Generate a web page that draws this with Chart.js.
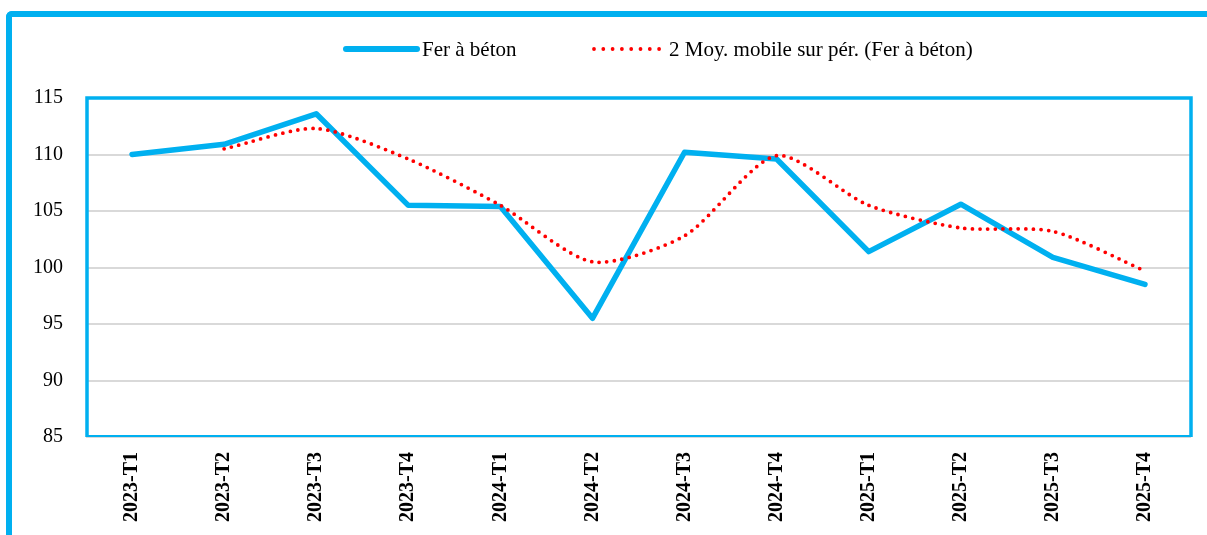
<!doctype html>
<html>
	<head>
		<title>Fer à béton</title>
		<meta charset="utf-8">
		<script src="https://cdnjs.cloudflare.com/ajax/libs/Chart.js/4.4.1/chart.umd.min.js"></script>
		<style>
			html, body { margin: 0; padding: 0; background: #fff; overflow: hidden; }
			#frame {
				position: absolute; left: 6px; top: 11px;
				width: 1400px; height: 700px;
				border-top: 6px solid #00B0F0; border-left: 6px solid #00B0F0;
				border-top-left-radius: 6px;
			}
			#wrap { position: absolute; left: 0; top: 0; width: 1207px; height: 535px; }
		</style>
	</head>
	<body>
		<div id="frame"></div>
		<div id="wrap">
			<canvas id="canvas" width="1207" height="535"></canvas>
		</div>

<script>
var labels  = ["2023-T1","2023-T2","2023-T3","2023-T4","2024-T1","2024-T2","2024-T3","2024-T4","2025-T1","2025-T2","2025-T3","2025-T4"];
var ferBeton = [110.0, 110.9, 113.6, 105.5, 105.4, 95.5, 110.2, 109.6, 101.4, 105.6, 100.9, 98.5];
var moyMobile = [null, 110.5, 112.3, 109.6, 105.5, 100.5, 102.8, 109.9, 105.5, 103.5, 103.2, 99.7];
var yTicks = [85, 90, 95, 100, 105, 110, 115];

var CYAN = "#00B0F0";
var SERIF = "'Liberation Serif', 'Times New Roman', serif";

// legend drawn by hand so it can sit where Excel put it
var legendPlugin = {
	id: 'legendLine',
	afterDraw: function(chart) {
		var ctx = chart.ctx;
		var y = 49;
		var items = [
			{x: 346, w: 71, ds: chart.data.datasets[0]},
			{x: 594, w: 70, ds: chart.data.datasets[1]}
		];
		ctx.save();
		ctx.font = "21px " + SERIF;
		ctx.textBaseline = "middle";
		ctx.fillStyle = "#000";
		items.forEach(function(it) {
			ctx.beginPath();
			ctx.strokeStyle = it.ds.borderColor;
			ctx.lineWidth = it.ds.borderWidth + (it.ds.borderDash ? 0 : 0.5);
			ctx.lineCap = "round";
			ctx.setLineDash(it.ds.borderDash ? [0, 9.3] : []);
			ctx.moveTo(it.x, y);
			ctx.lineTo(it.x + it.w, y);
			ctx.stroke();
			ctx.setLineDash([]);
			ctx.fillText(it.ds.label, it.x + it.w + 5, y + 1);
		});
		ctx.restore();
	}
};

var borderPlugin = {
	id: 'plotBorder',
	beforeDatasetsDraw: function(chart) {
		var a = chart.chartArea, ctx = chart.ctx;
		ctx.save();
		ctx.strokeStyle = CYAN;
		ctx.lineWidth = 3.5;
		ctx.beginPath();
		ctx.moveTo(a.left + 1, a.bottom);
		ctx.lineTo(a.left + 1, a.top);
		ctx.lineTo(a.right, a.top);
		ctx.lineTo(a.right, a.bottom);
		ctx.stroke();
		ctx.lineWidth = 2;
		ctx.beginPath();
		ctx.moveTo(a.left, a.bottom - 1);
		ctx.lineTo(a.right, a.bottom - 1);
		ctx.stroke();
		ctx.restore();
	}
};

new Chart(document.getElementById("canvas"), {
	type: 'line',
	data: {
		labels: labels,
		datasets: [{
			label: "Fer à béton",
			data: ferBeton,
			borderColor: CYAN,
			borderWidth: 5.5,
			borderCapStyle: 'round',
			borderJoinStyle: 'round',
			pointRadius: 0,
			fill: false,
			tension: 0,
			order: 2
		}, {
			label: "2 Moy. mobile sur pér. (Fer à béton)",
			data: moyMobile,
			borderColor: "#FF0000",
			borderWidth: 3.8,
			borderDash: [0, 7.6],
			borderCapStyle: 'round',
			pointRadius: 0,
			fill: false,
			tension: 0.25,
			spanGaps: false,
			order: 1
		}]
	},
	options: {
		responsive: false,
		animation: false,
		devicePixelRatio: 1,
		layout: { padding: { left: 0, right: 16, top: 98, bottom: 0 } },
		plugins: {
			legend: { display: false },
			tooltip: { enabled: false }
		},
		scales: {
			x: {
				offset: true,
				grid: { display: false, drawTicks: false },
				border: { display: false },
				ticks: {
					autoSkip: false,
					minRotation: 90,
					maxRotation: 90,
					padding: 15,
					color: "#000",
					font: { family: SERIF, size: 20, weight: 'bold' }
				},
				afterFit: function(s) { s.height = 98; }
			},
			y: {
				min: 85,
				max: 115,
				afterBuildTicks: function(s) { s.ticks = yTicks.map(function(v) { return {value: v}; }); },
				grid: { color: "#d9d9d9", lineWidth: 2, drawTicks: false },
				border: { display: false },
				ticks: {
					padding: 23,
					color: "#000",
					font: { family: SERIF, size: 20 }
				},
				afterFit: function(s) { s.width = 86; }
			}
		}
	},
	plugins: [borderPlugin, legendPlugin]
});
</script>
	</body>
</html>
